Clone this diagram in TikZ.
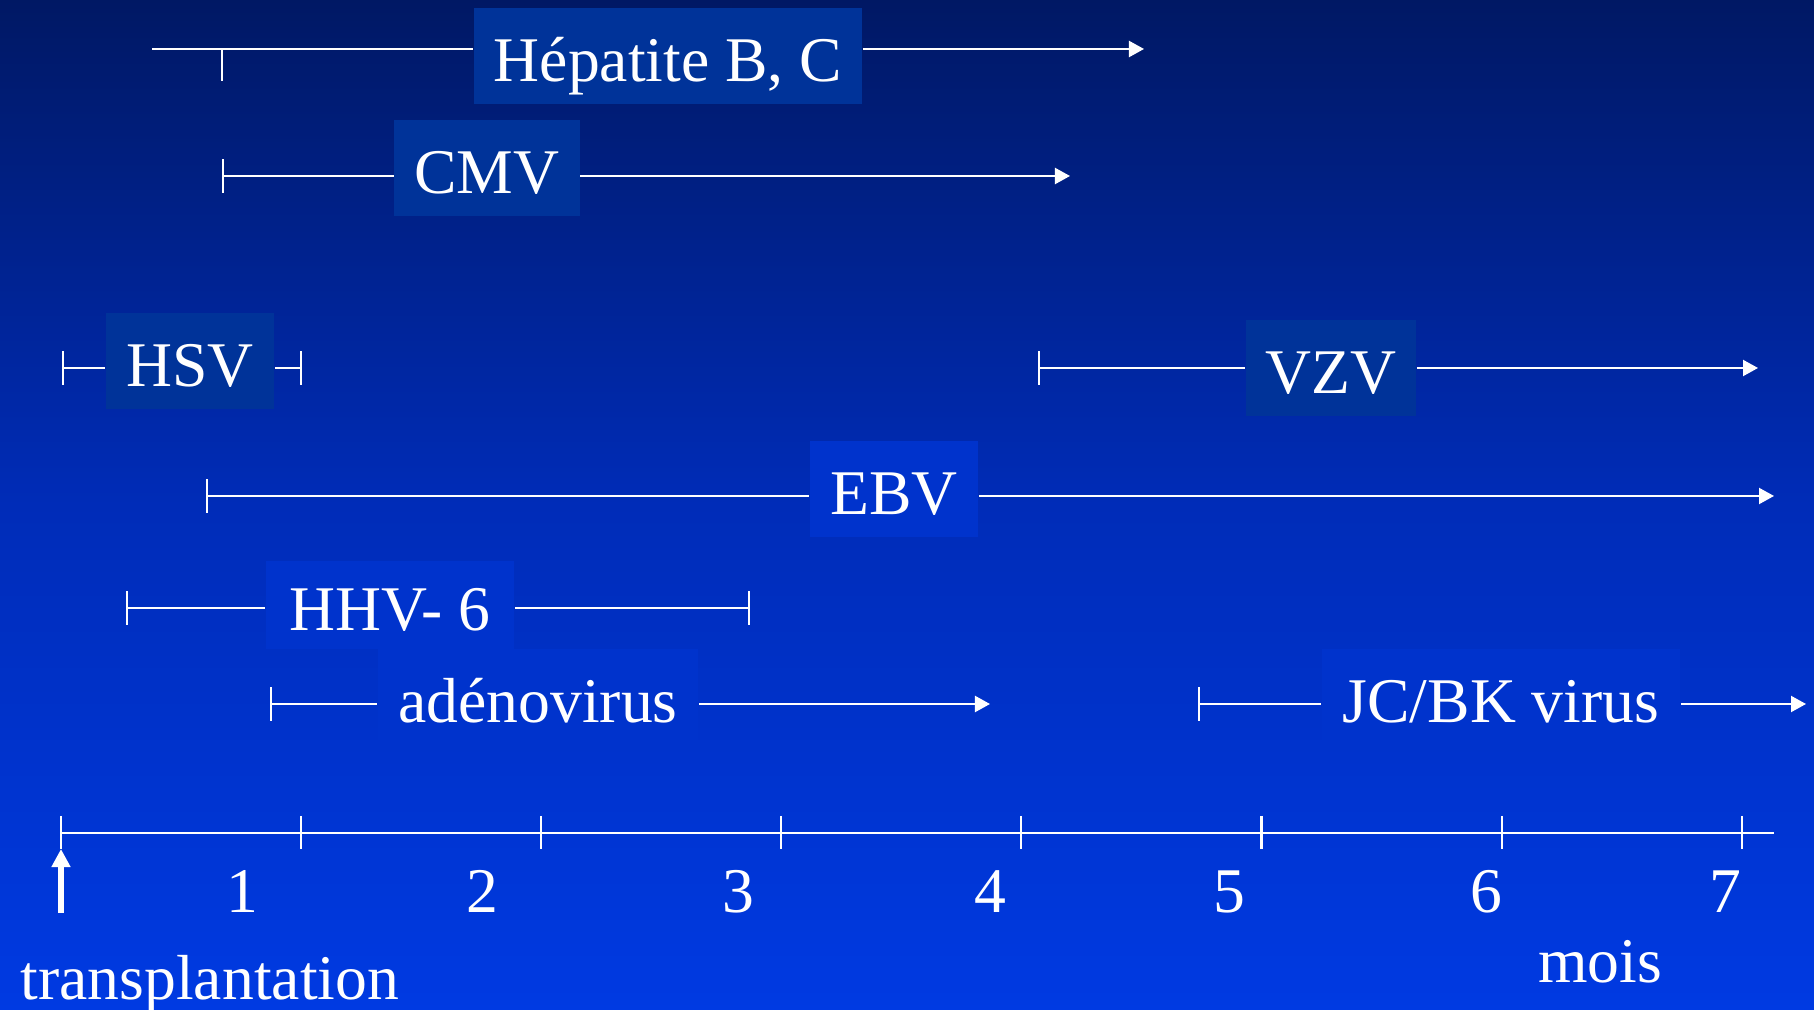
\documentclass[tikz,border=0pt]{standalone}
\usepackage{fontspec}
\setmainfont{Liberation Serif}
\usetikzlibrary{arrows.meta}

\definecolor{bgtop}{RGB}{0,24,100}
\definecolor{bgmid}{RGB}{0,44,184}
\definecolor{bgbot}{RGB}{0,58,226}
\definecolor{boxdark}{RGB}{0,51,153}
\definecolor{boxlight}{RGB}{0,51,204}

\begin{document}
\begin{tikzpicture}[
    x=0.01cm, y=-0.01cm,
    font=\fontsize{18.1}{22}\selectfont,
    >={Triangle[length=1.5mm, width=1.6mm]},
    line/.style={draw=white, line width=0.6pt},
    startbar/.style={line, {Bar[width=3.3mm]}-},
    endarrow/.style={line, ->},
    endbar/.style={line, -{Bar[width=3.3mm]}},
    virus/.style={fill=#1, text=white, inner sep=0pt, text height=0.50cm, text depth=0pt, minimum height=0.96cm},
    num/.style={text=white, anchor=base, inner sep=0pt}
]
\useasboundingbox (0,0) rectangle (1814,1010);
\shade[top color=bgtop, bottom color=bgbot, middle color=bgmid] (0,0) rectangle (1814,1010);

% virus labels
\node[virus=boxdark, minimum width=3.88cm] (hep) at (668,56) {Hépatite B, C};
\node[virus=boxdark, minimum width=1.85cm] (cmv) at (487,168) {CMV};
\node[virus=boxdark, minimum width=1.68cm] (hsv) at (190,361) {HSV};
\node[virus=boxdark, minimum width=1.70cm] (vzv) at (1331,368) {VZV};
\node[virus=boxlight, minimum width=1.68cm] (ebv) at (894,489) {EBV};
\node[virus=boxlight, minimum width=2.48cm, minimum height=0.88cm] (hhv) at (390,605) {HHV- 6};
\node[virus=boxlight, minimum width=3.20cm, minimum height=0.95cm] (adeno) at (538,697) {adénovirus};
\node[virus=boxlight, minimum width=3.58cm, minimum height=0.95cm] (jcbk) at (1501,697) {JC/BK virus};

% periods
\coordinate (hep0) at (152,49);   \coordinate (hep1) at (1144,49);
\coordinate (hept) at (222,49);
\coordinate (cmv0) at (222,176);  \coordinate (cmv1) at (1070,176);
\coordinate (hsv0) at (62,368);   \coordinate (hsv1) at (302,368);
\coordinate (vzv0) at (1038,368); \coordinate (vzv1) at (1758,368);
\coordinate (ebv0) at (206,496);  \coordinate (ebv1) at (1774,496);
\coordinate (hhv0) at (126,608);  \coordinate (hhv1) at (750,608);
\coordinate (ade0) at (270,704);  \coordinate (ade1) at (990,704);
\coordinate (jc0) at (1198,704);  \coordinate (jc1) at (1806,704);

\draw[line] (hep0) -- (hep0 -| hep.west);
\draw[line] (hept) -- ++(0,32);
\draw[endarrow] (hep.east |- hep0) -- (hep1);
\draw[startbar] (cmv0) -- (cmv0 -| cmv.west);
\draw[endarrow] (cmv.east |- cmv0) -- (cmv1);
\draw[startbar] (hsv0) -- (hsv0 -| hsv.west);
\draw[endbar] (hsv.east |- hsv0) -- (hsv1);
\draw[startbar] (vzv0) -- (vzv0 -| vzv.west);
\draw[endarrow] (vzv.east |- vzv0) -- (vzv1);
\draw[startbar] (ebv0) -- (ebv0 -| ebv.west);
\draw[endarrow] (ebv.east |- ebv0) -- (ebv1);
\draw[startbar] (hhv0) -- (hhv0 -| hhv.west);
\draw[endbar] (hhv.east |- hhv0) -- (hhv1);
\draw[startbar] (ade0) -- (ade0 -| adeno.west);
\draw[endarrow] (adeno.east |- ade0) -- (ade1);
\draw[startbar] (jc0) -- (jc0 -| jcbk.west);
\draw[endarrow] (jcbk.east |- jc0) -- (jc1);

% time axis
\coordinate (ax0) at (61,833);
\coordinate (ax1) at (1774,833);
\draw[line] (ax0) -- (ax1);
\foreach \i in {0,...,7}
    \draw[line] ({61+240.1*\i},816) -- ({61+240.1*\i},849);
\foreach \x/\n in {242/1,482/2,738/3,990/4,1229/5,1486/6,1725/7}
    \node[num] (m\n) at (\x,913) {\n};
\node[num] (mois) at (1600,983) {mois};

% transplantation
\coordinate (tp0) at (61,913);
\coordinate (tp1) at (61,849);
\draw[draw=white, line width=0.06cm, -{Triangle[length=1.8mm, width=1.8mm]}] (tp0) -- (tp1);
\node[num, anchor=base west] (tp) at (20,1000) {transplantation};
\end{tikzpicture}
\end{document}
